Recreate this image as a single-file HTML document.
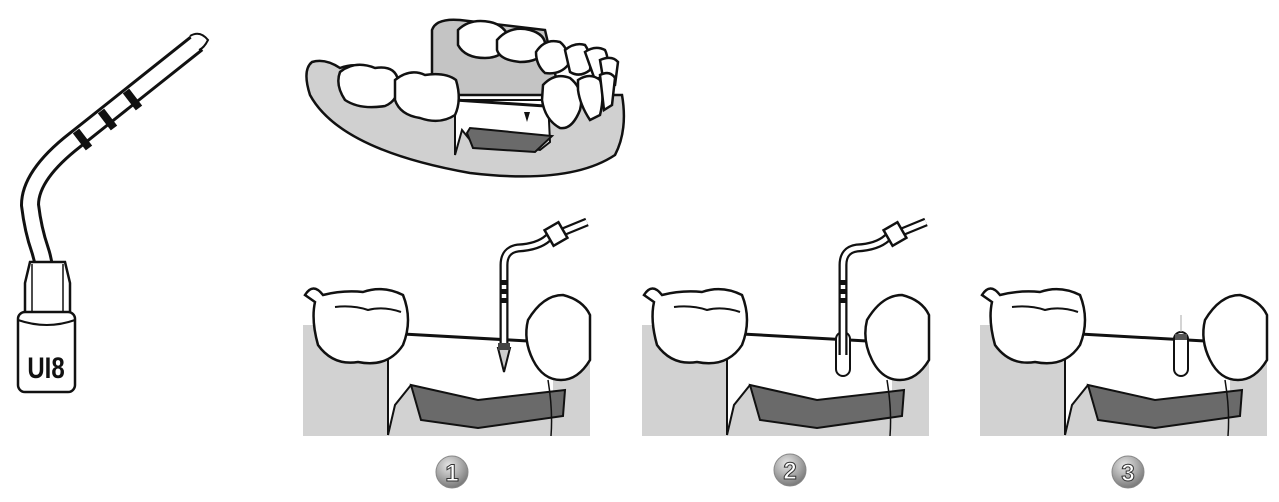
<!DOCTYPE html>
<html><head><style>
html,body{margin:0;padding:0;background:#fff;width:1279px;height:502px;overflow:hidden}
svg{display:block}
</style></head><body>
<svg width="1279" height="502" viewBox="0 0 1279 502" xmlns="http://www.w3.org/2000/svg">
<defs>
<radialGradient id="bg" cx="0.4" cy="0.3" r="0.8">
<stop offset="0" stop-color="#e6e6e6"/><stop offset="0.5" stop-color="#aaaaaa"/><stop offset="1" stop-color="#6a6a6a"/>
</radialGradient>
<g id="panel">
<rect x="0" y="105" width="287" height="111" fill="#d2d2d2"/>
<path d="M85,100 L250,100 L250,175 L170,180 L108,165 L92,185 L85,215 Z" fill="#fff"/>
<path d="M85,140 L85,215 M85,215 L92,185 L108,165" fill="none" stroke="#111" stroke-width="2"/>
<path d="M108,165 L118,200 L175,208 L260,196 L262,170 L175,180 Z" fill="#6a6a6a" stroke="#111" stroke-width="2"/>
<path d="M100,114 L225,121" stroke="#111" stroke-width="3" fill="none"/>
<path d="M2,75 Q10,62 20,75 Q40,70 60,72 Q80,65 100,75 Q110,100 100,125 Q85,148 55,142 Q30,146 15,125 Q8,100 12,82 Z" fill="#fff" stroke="#111" stroke-width="2.5"/>
<path d="M32,87 Q50,85 65,90 Q80,86 98,92" fill="none" stroke="#111" stroke-width="2"/>
<path d="M225,100 Q240,75 260,75 Q280,80 287,95 L287,140 Q275,160 258,160 Q240,160 230,140 Q220,120 225,100 Z" fill="#fff" stroke="#111" stroke-width="2.5"/>
<path d="M245,160 Q250,190 248,216" fill="none" stroke="#111" stroke-width="1.5"/>
</g>
<g id="tool">
<path d="M201,135 L201,45 Q201,30 215,28 Q235,27 245,18 L284,2" fill="none" stroke="#111" stroke-width="9"/>
<path d="M201,135 L201,45 Q201,30 215,28 Q235,27 245,18 L284,2" fill="none" stroke="#fff" stroke-width="4.5"/>
<rect x="245" y="5" width="16" height="18" fill="#fff" stroke="#111" stroke-width="2.5" transform="rotate(-30 253 14)"/>
<rect x="197" y="60" width="8" height="5" fill="#111"/><rect x="197" y="69" width="8" height="5" fill="#111"/><rect x="197" y="78" width="8" height="5" fill="#111"/>
</g>
</defs>

<!-- tip UI8 -->
<path d="M197,43 L75,140 Q30,175 30,205 Q33,230 40,250 Q45,265 45,283" fill="none" stroke="#111" stroke-width="20"/>
<path d="M197,43 L75,140 Q30,175 30,205 Q33,230 40,250 Q45,265 45,283" fill="none" stroke="#fff" stroke-width="14"/>
<path d="M190,36 Q200,30 208,40 Q204,48 199,50" fill="#fff" stroke="#111" stroke-width="2"/>
<g stroke="#111" stroke-width="8">
<line x1="76" y1="131" x2="89" y2="148"/>
<line x1="101" y1="111" x2="114" y2="128"/>
<line x1="126" y1="91" x2="139" y2="108"/>
</g>
<path d="M25,283 L30,262 L65,262 L70,283 L70,318 L25,318 Z" fill="#fff" stroke="#111" stroke-width="2.5"/>
<path d="M32,264 L32,315 M63,264 L63,315" stroke="#111" stroke-width="1.5"/>
<rect x="18" y="312" width="57" height="80" rx="7" fill="#fff" stroke="#111" stroke-width="2.5"/>
<path d="M18,320 Q47,330 75,320" fill="none" stroke="#111" stroke-width="2"/>
<text x="0" y="0" text-anchor="middle" font-family="Liberation Sans, sans-serif" font-weight="bold" font-size="30" fill="#111" transform="translate(46 378) scale(0.8 1)">UI8</text>

<!-- arch -->
<g stroke="#111" stroke-width="2.5">
<path d="M432,95 L432,30 Q436,18 460,20 L545,30 L560,95 Z" fill="#c4c4c4"/>
<path d="M312,62 Q302,70 310,95 Q340,150 470,173 Q570,185 615,155 Q628,130 622,95 L560,95 L545,120 L455,100 Q420,90 390,75 Q360,60 340,68 Q325,58 312,62 Z" fill="#d0d0d0"/>
<path d="M455,100 L548,100 L550,142 L540,150 L470,140 L462,130 L455,155 Z" fill="#fff" stroke-width="2"/>
<path d="M467,133 L473,148 L535,152 L552,136 L470,128 Z" fill="#6a6a6a" stroke-width="2"/>
<path d="M455,100 L545,106" fill="none" stroke-width="3"/>
<path d="M340,72 Q355,60 375,68 Q395,65 398,80 Q400,100 385,106 Q360,110 345,100 Q335,85 340,72 Z" fill="#fff"/>
<path d="M395,80 Q410,68 425,75 Q445,72 456,80 Q462,100 455,115 Q440,125 420,118 Q400,115 395,100 Z" fill="#fff"/>
<path d="M458,30 Q470,18 490,22 Q505,25 510,40 Q505,58 485,58 Q465,58 458,45 Z" fill="#fff"/>
<path d="M497,40 Q510,25 530,30 Q548,35 545,50 Q540,62 520,62 Q500,60 497,50 Z" fill="#fff"/>
<path d="M536,52 Q545,38 560,42 Q570,50 568,65 Q560,75 545,73 Q536,65 536,52 Z" fill="#fff"/>
<path d="M565,50 Q575,42 585,45 Q592,55 590,70 Q580,78 570,72 Z" fill="#fff"/>
<path d="M585,52 Q595,45 605,50 Q610,60 605,75 L595,80 Z" fill="#fff"/>
<path d="M600,60 Q612,55 618,62 L615,85 L605,90 Z" fill="#fff"/>
<path d="M543,85 Q555,72 570,78 Q585,90 580,110 Q572,130 560,128 Q545,120 542,100 Z" fill="#fff"/>
<path d="M578,80 Q590,72 600,80 Q605,95 600,115 L590,120 Q580,105 578,90 Z" fill="#fff"/>
<path d="M600,75 Q610,70 615,78 L612,105 L604,110 Z" fill="#fff"/>
</g>
<path d="M524,112 L530,112 L527,122 Z" fill="#111"/>

<!-- panels -->
<g transform="translate(303,220)"><use href="#panel"/><use href="#tool"/>
<path d="M195,128 L207,128 L201,152 Z" fill="#ccc" stroke="#111" stroke-width="2"/><rect x="195" y="123" width="12" height="7" fill="#444"/></g>
<g transform="translate(642,220)"><use href="#panel"/>
<rect x="194" y="112" width="14" height="44" rx="7" fill="#fff" stroke="#111" stroke-width="2"/><use href="#tool"/></g>
<g transform="translate(980,220)"><use href="#panel"/>
<rect x="194" y="112" width="14" height="44" rx="7" fill="#fff" stroke="#111" stroke-width="2"/><rect x="195" y="114" width="12" height="6" fill="#555"/>
<path d="M201,95 L201,112" stroke="#aaa" stroke-width="1"/></g>

<!-- badges -->
<g font-family="Liberation Sans, sans-serif" font-weight="bold" font-size="24" fill="#fff" text-anchor="middle">
<circle cx="452" cy="472" r="16" fill="url(#bg)" stroke="#888"/><text x="452" y="481" stroke="#333" stroke-width="1">1</text>
<circle cx="790" cy="470" r="16" fill="url(#bg)" stroke="#888"/><text x="790" y="479" stroke="#333" stroke-width="1">2</text>
<circle cx="1128" cy="472" r="16" fill="url(#bg)" stroke="#888"/><text x="1128" y="481" stroke="#333" stroke-width="1">3</text>
</g>
</svg>
</body></html>
